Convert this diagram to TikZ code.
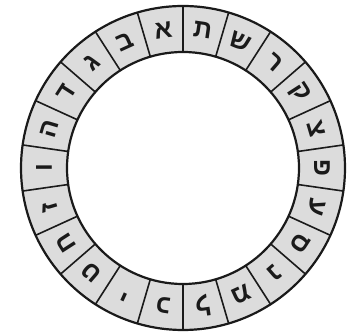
\documentclass[tikz,border=0pt]{standalone}
\usepackage{fontspec}
\newfontfamily\hebfont[Script=Hebrew]{Liberation Sans Bold}
\usetikzlibrary{calc}
\definecolor{cellgray}{HTML}{DCDCDC}
\definecolor{ink}{HTML}{1A1A1A}

\begin{document}
\begin{tikzpicture}[x=1pt,y=1pt,every node/.style={font=\hebfont\fontsize{26}{26}\selectfont}]
    \tikzstyle{ring}=[draw=ink,line width=2.2pt];
    \tikzstyle{spoke}=[draw=ink,line width=1.6pt];
    \tikzstyle{letter}=[text=ink,inner sep=0pt];
    \useasboundingbox (0,0) rectangle (354,334);
    \coordinate (c) at (183,166);

    % the ring of cells
    \fill[cellgray,even odd rule] (c) circle (162) (c) circle (116);
    \draw[ring] (c) circle (162);
    \draw[ring] (c) circle (116);
    \foreach \k in {0,...,21}
      \draw[spoke] ($(c)+({90+\k*360/22}:116)$) -- ($(c)+({90+\k*360/22}:162)$);

    % letters, tops pointing outward
    \foreach \ch [count=\i, evaluate=\i as \a using 90+(\i-0.5)*360/22] in
        {א,ב,ג,ד,ה,ו,ז,ח,ט,י,כ,ל,מ,נ,ס,ע,פ,צ,ק,ר,ש,ת}
      \node[letter,rotate=\a-90] (l\i) at ($(c)+(\a:139)$) {\ch};
\end{tikzpicture}
\end{document}
